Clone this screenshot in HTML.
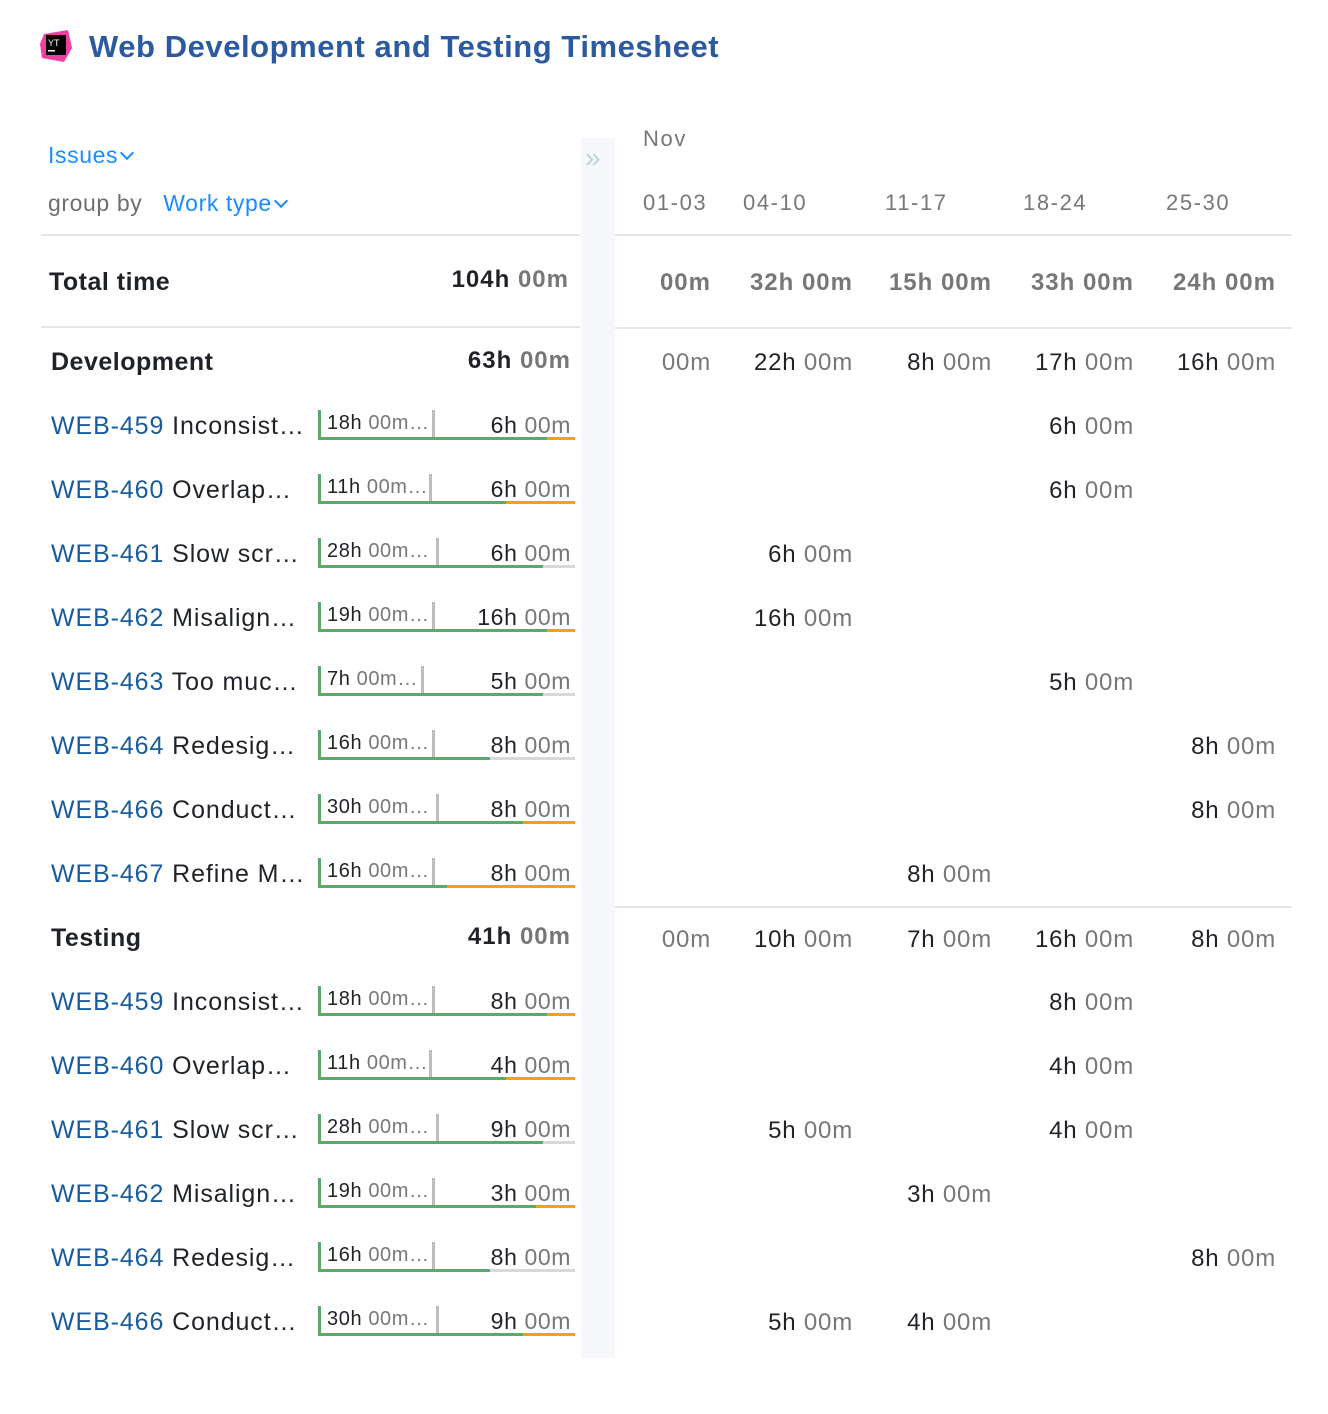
<!DOCTYPE html>
<html><head><meta charset="utf-8"><style>
body{margin:0;width:1328px;height:1414px;background:#fff;position:relative;font-family:"Liberation Sans",Arial,sans-serif;color:#1f2329;overflow:hidden}
.a{position:absolute;white-space:nowrap;line-height:30px}
.g{color:#777}
.b{font-weight:bold}
.id{color:#1a5b9c}
.hr{position:absolute;height:2px;background:#e3e6ea}
.bar{position:absolute;left:318px;width:257px;height:30px;border-left:3px solid #5aaa6a;box-sizing:border-box}
.bar .bt{position:absolute;left:0;right:0;bottom:0;height:3px}
.bar .tk{position:absolute;top:0;bottom:3px;width:3px;background:#bdbdbd}
.bar .l{position:absolute;left:6px;top:-2px;font-size:20px;line-height:30px;letter-spacing:0.6px}
.bar .r{position:absolute;right:4px;top:0;font-size:23px;line-height:30px;letter-spacing:0.6px}
.c{font-size:24px;letter-spacing:0.8px}
.n{font-size:25px;letter-spacing:0.9px}
.t{font-size:24px;letter-spacing:1px}
.w{font-size:22px;letter-spacing:1.6px}
.ch{display:inline-block;width:8px;height:8px;border-right:2px solid #1a8cff;border-bottom:2px solid #1a8cff;transform:rotate(45deg);margin-left:4px;position:relative;top:-5px}
</style></head><body>
<svg style="position:absolute;left:38px;top:28px" width="36" height="36" viewBox="0 0 36 36"><polygon points="6,6 30,2 34,20 26,34 4,30 2,16" fill="#f03fa0"/><rect x="8" y="7" width="20" height="20" fill="#000"/><text x="10" y="18" font-size="9" fill="#fff" font-family="Liberation Sans">YT</text><rect x="10" y="22" width="7" height="1.5" fill="#fff"/></svg>
<div class="a b" style="left:89px;top:30px;font-size:31px;line-height:34px;color:#2c5aa0;letter-spacing:0.55px">Web Development and Testing Timesheet</div>

<div class="a" style="left:48px;top:140px;font-size:23px;color:#1a8cff;letter-spacing:0.6px">Issues<span class="ch"></span></div>
<div class="a" style="left:48px;top:188px;font-size:23px;color:#6e6e6e;letter-spacing:0.6px">group by&nbsp;&nbsp; <span style="color:#1a8cff">Work type<span class="ch"></span></span></div>

<div style="position:absolute;left:581px;top:138px;width:34px;height:1220px;background:#f5f7fa"></div>
<div class="a" style="left:585px;top:143px;font-size:28px;color:#b9d2ea">&#187;</div>

<div class="a g w" style="left:643px;top:124px">Nov</div>
<div class="a g w" style="left:643px;top:188px">01-03</div>
<div class="a g w" style="left:743px;top:188px">04-10</div>
<div class="a g w" style="left:885px;top:188px">11-17</div>
<div class="a g w" style="left:1023px;top:188px">18-24</div>
<div class="a g w" style="left:1166px;top:188px">25-30</div>

<div class="hr" style="left:41px;width:539px;top:234px"></div>
<div class="hr" style="left:615px;width:677px;top:234px"></div>
<div class="hr" style="left:41px;width:539px;top:326px"></div>
<div class="hr" style="left:615px;width:677px;top:327px"></div>
<div class="hr" style="left:615px;width:677px;top:906px"></div>

<div class="a b" style="left:49px;top:267px;font-size:25px;letter-spacing:0.5px">Total time</div>
<div class="a b t" style="right:759px;top:265px">104h <span class="g">00m</span></div>
<div class="a b g t" style="right:617px;top:268px">00m</div>
<div class="a b g t" style="right:475px;top:268px">32h 00m</div>
<div class="a b g t" style="right:336px;top:268px">15h 00m</div>
<div class="a b g t" style="right:194px;top:268px">33h 00m</div>
<div class="a b g t" style="right:52px;top:268px">24h 00m</div>

<div class="a b" style="left:51px;top:347px;font-size:25px;letter-spacing:0.5px">Development</div>
<div class="a b t" style="right:757px;top:346px">63h <span class="g">00m</span></div>
<div class="a c g" style="right:617px;top:348px">00m</div>
<div class="a c" style="right:475px;top:348px">22h <span class="g">00m</span></div>
<div class="a c" style="right:336px;top:348px">8h <span class="g">00m</span></div>
<div class="a c" style="right:194px;top:348px">17h <span class="g">00m</span></div>
<div class="a c" style="right:52px;top:348px">16h <span class="g">00m</span></div>

<div class="a n" style="left:51px;top:411px"><span class="id">WEB-459</span> Inconsist…</div>
<div class="bar" style="top:410px"><div class="bt" style="background:linear-gradient(90deg,#5aaa6a 226px,#f0a500 226px)"></div><div class="tk" style="left:111px"></div><div class="l">18h <span class="g">00m…</span></div><div class="r">6h <span class="g">00m</span></div></div>
<div class="a c" style="right:194px;top:412px">6h <span class="g">00m</span></div>

<div class="a n" style="left:51px;top:475px"><span class="id">WEB-460</span> Overlap…</div>
<div class="bar" style="top:474px"><div class="bt" style="background:linear-gradient(90deg,#5aaa6a 185px,#f0a500 185px)"></div><div class="tk" style="left:108px"></div><div class="l">11h <span class="g">00m…</span></div><div class="r">6h <span class="g">00m</span></div></div>
<div class="a c" style="right:194px;top:476px">6h <span class="g">00m</span></div>

<div class="a n" style="left:51px;top:539px"><span class="id">WEB-461</span> Slow scr…</div>
<div class="bar" style="top:538px"><div class="bt" style="background:linear-gradient(90deg,#5aaa6a 222px,#d8d8d8 222px)"></div><div class="tk" style="left:115px"></div><div class="l">28h <span class="g">00m…</span></div><div class="r">6h <span class="g">00m</span></div></div>
<div class="a c" style="right:475px;top:540px">6h <span class="g">00m</span></div>

<div class="a n" style="left:51px;top:603px"><span class="id">WEB-462</span> Misalign…</div>
<div class="bar" style="top:602px"><div class="bt" style="background:linear-gradient(90deg,#5aaa6a 226px,#f0a500 226px)"></div><div class="tk" style="left:111px"></div><div class="l">19h <span class="g">00m…</span></div><div class="r">16h <span class="g">00m</span></div></div>
<div class="a c" style="right:475px;top:604px">16h <span class="g">00m</span></div>

<div class="a n" style="left:51px;top:667px"><span class="id">WEB-463</span> Too muc…</div>
<div class="bar" style="top:666px"><div class="bt" style="background:linear-gradient(90deg,#5aaa6a 222px,#d8d8d8 222px)"></div><div class="tk" style="left:100px"></div><div class="l">7h <span class="g">00m…</span></div><div class="r">5h <span class="g">00m</span></div></div>
<div class="a c" style="right:194px;top:668px">5h <span class="g">00m</span></div>

<div class="a n" style="left:51px;top:731px"><span class="id">WEB-464</span> Redesig…</div>
<div class="bar" style="top:730px"><div class="bt" style="background:linear-gradient(90deg,#5aaa6a 169px,#d8d8d8 169px)"></div><div class="tk" style="left:111px"></div><div class="l">16h <span class="g">00m…</span></div><div class="r">8h <span class="g">00m</span></div></div>
<div class="a c" style="right:52px;top:732px">8h <span class="g">00m</span></div>

<div class="a n" style="left:51px;top:795px"><span class="id">WEB-466</span> Conduct…</div>
<div class="bar" style="top:794px"><div class="bt" style="background:linear-gradient(90deg,#5aaa6a 202px,#f0a500 202px)"></div><div class="tk" style="left:115px"></div><div class="l">30h <span class="g">00m…</span></div><div class="r">8h <span class="g">00m</span></div></div>
<div class="a c" style="right:52px;top:796px">8h <span class="g">00m</span></div>

<div class="a n" style="left:51px;top:859px"><span class="id">WEB-467</span> Refine M…</div>
<div class="bar" style="top:858px"><div class="bt" style="background:linear-gradient(90deg,#5aaa6a 126px,#f0a500 126px)"></div><div class="tk" style="left:111px"></div><div class="l">16h <span class="g">00m…</span></div><div class="r">8h <span class="g">00m</span></div></div>
<div class="a c" style="right:336px;top:860px">8h <span class="g">00m</span></div>

<div class="a b" style="left:51px;top:923px;font-size:25px;letter-spacing:0.5px">Testing</div>
<div class="a b t" style="right:757px;top:922px">41h <span class="g">00m</span></div>
<div class="a c g" style="right:617px;top:925px">00m</div>
<div class="a c" style="right:475px;top:925px">10h <span class="g">00m</span></div>
<div class="a c" style="right:336px;top:925px">7h <span class="g">00m</span></div>
<div class="a c" style="right:194px;top:925px">16h <span class="g">00m</span></div>
<div class="a c" style="right:52px;top:925px">8h <span class="g">00m</span></div>

<div class="a n" style="left:51px;top:987px"><span class="id">WEB-459</span> Inconsist…</div>
<div class="bar" style="top:986px"><div class="bt" style="background:linear-gradient(90deg,#5aaa6a 226px,#f0a500 226px)"></div><div class="tk" style="left:111px"></div><div class="l">18h <span class="g">00m…</span></div><div class="r">8h <span class="g">00m</span></div></div>
<div class="a c" style="right:194px;top:988px">8h <span class="g">00m</span></div>

<div class="a n" style="left:51px;top:1051px"><span class="id">WEB-460</span> Overlap…</div>
<div class="bar" style="top:1050px"><div class="bt" style="background:linear-gradient(90deg,#5aaa6a 185px,#f0a500 185px)"></div><div class="tk" style="left:108px"></div><div class="l">11h <span class="g">00m…</span></div><div class="r">4h <span class="g">00m</span></div></div>
<div class="a c" style="right:194px;top:1052px">4h <span class="g">00m</span></div>

<div class="a n" style="left:51px;top:1115px"><span class="id">WEB-461</span> Slow scr…</div>
<div class="bar" style="top:1114px"><div class="bt" style="background:linear-gradient(90deg,#5aaa6a 222px,#d8d8d8 222px)"></div><div class="tk" style="left:115px"></div><div class="l">28h <span class="g">00m…</span></div><div class="r">9h <span class="g">00m</span></div></div>
<div class="a c" style="right:475px;top:1116px">5h <span class="g">00m</span></div>
<div class="a c" style="right:194px;top:1116px">4h <span class="g">00m</span></div>

<div class="a n" style="left:51px;top:1179px"><span class="id">WEB-462</span> Misalign…</div>
<div class="bar" style="top:1178px"><div class="bt" style="background:linear-gradient(90deg,#5aaa6a 215px,#f0a500 215px)"></div><div class="tk" style="left:111px"></div><div class="l">19h <span class="g">00m…</span></div><div class="r">3h <span class="g">00m</span></div></div>
<div class="a c" style="right:336px;top:1180px">3h <span class="g">00m</span></div>

<div class="a n" style="left:51px;top:1243px"><span class="id">WEB-464</span> Redesig…</div>
<div class="bar" style="top:1242px"><div class="bt" style="background:linear-gradient(90deg,#5aaa6a 169px,#d8d8d8 169px)"></div><div class="tk" style="left:111px"></div><div class="l">16h <span class="g">00m…</span></div><div class="r">8h <span class="g">00m</span></div></div>
<div class="a c" style="right:52px;top:1244px">8h <span class="g">00m</span></div>

<div class="a n" style="left:51px;top:1307px"><span class="id">WEB-466</span> Conduct…</div>
<div class="bar" style="top:1306px"><div class="bt" style="background:linear-gradient(90deg,#5aaa6a 202px,#f0a500 202px)"></div><div class="tk" style="left:115px"></div><div class="l">30h <span class="g">00m…</span></div><div class="r">9h <span class="g">00m</span></div></div>
<div class="a c" style="right:475px;top:1308px">5h <span class="g">00m</span></div>
<div class="a c" style="right:336px;top:1308px">4h <span class="g">00m</span></div>
</body></html>
